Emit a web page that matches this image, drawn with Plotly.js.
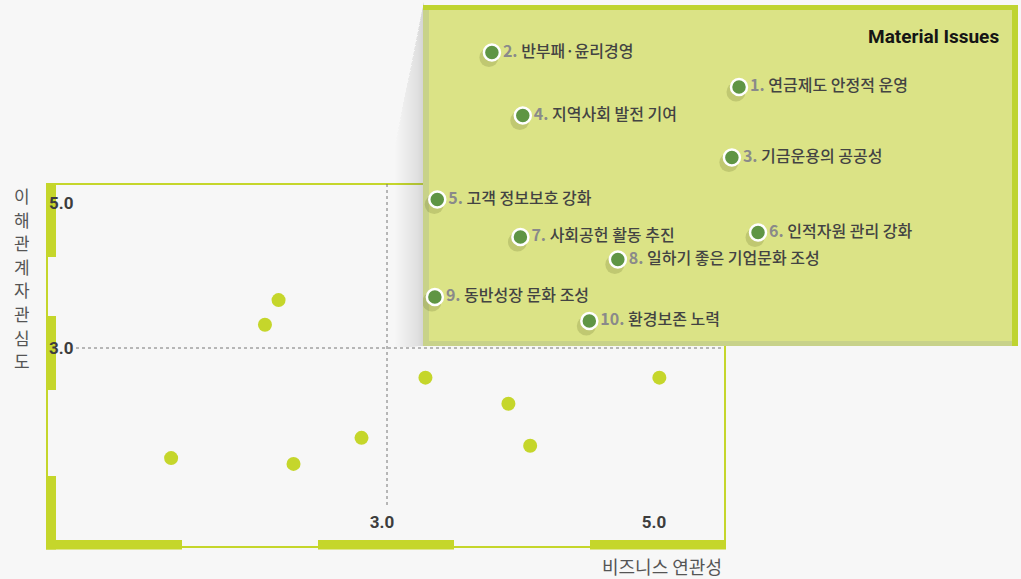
<!DOCTYPE html>
<html>
<head>
<meta charset="utf-8">
<script src="https://cdn.plot.ly/plotly-3.0.1.min.js"></script>
<style>html,body{margin:0;padding:0;background:#f7f7f7;}#chart{width:1021px;height:579px;}</style>
</head>
<body>
<div id="chart"></div>
<script>
// ---- data ----
const mainX = [1.42, 2.21, 2.11, 2.32, 2.82, 3.29, 3.90, 4.06, 5.01];
const mainY = [1.48, 3.66, 3.32, 1.40, 1.76, 2.59, 2.23, 1.65, 2.59];

const issueNo = ['1.', '2.', '3.', '4.', '5.', '6.', '7.', '8.', '9.', '10.'];
const issueName = ['연금제도 안정적 운영', '반부패·윤리경영', '기금운용의 공공성', '지역사회 발전 기여',
  '고객 정보보호 강화', '인적자원 관리 강화', '사회공헌 활동 추진', '일하기 좋은 기업문화 조성',
  '동반성장 문화 조성', '환경보존 노력'];
const issueX = [4.33, 3.29, 4.30, 3.42, 3.06, 4.41, 3.41, 3.82, 3.05, 3.70];
const issueY = [4.72, 4.95, 4.25, 4.53, 3.97, 3.75, 3.72, 3.57, 3.32, 3.16];

const xTickVals = [3, 5];
const xTickText = ['3.0', '5.0'];
const yTickVals = [5, 3];
const yTickText = ['5.0', '3.0'];

const xTitle = '비즈니스 연관성';
const yTitle = '이해관계자관심도';
const insetTitle = 'Material Issues';

// ---- styling / geometry ----
const W = 1021, H = 579;
const px = v => v / W;
const py = v => 1 - v / H;
const LIME = '#c5d62b';
const KR = '"Noto Sans CJK KR", "Noto Sans", sans-serif';

const shapes = [];
function rectPx(x0, y0, x1, y1, color, extra) {
  shapes.push(Object.assign({type: 'rect', xref: 'paper', yref: 'paper', x0: px(x0), x1: px(x1), y0: py(y1), y1: py(y0),
    fillcolor: color, line: {width: 0}, layer: 'below'}, extra || {}));
}
function linePx(x0, y0, x1, y1, color, width, dash) {
  shapes.push({type: 'line', xref: 'paper', yref: 'paper', x0: px(x0), x1: px(x1), y0: py(y0), y1: py(y1),
    line: {color: color, width: width, dash: dash || 'solid'}, layer: 'below'});
}

// frame
linePx(46, 184, 726, 184, LIME, 2);
linePx(725, 184, 725, 548, LIME, 2);
linePx(47, 184, 47, 548, LIME, 2);
linePx(46, 547, 726, 547, LIME, 2);
// thick axis segments
[[46, 182], [318, 454], [590, 726]].forEach(s => rectPx(s[0], 540, s[1], 549.5, LIME));
[[183, 257], [316, 390], [476, 549.5]].forEach(s => rectPx(46, s[0], 56, s[1], LIME));
// dotted guide lines
linePx(387, 184, 387, 508, '#777', 1, 'dot');
linePx(76, 348, 724, 348, '#777', 1, 'dot');

// shadow from quadrant to inset (stacked translucent layers -> smooth gradient)
const N = 36;
const yt = x => 184 + (x - 387) / 36 * (6 - 184);
const yb = x => 348 + (x - 387) / 36 * (346 - 348);
for (let k = 0; k < N; k++) {
  const xa = 387 + k * 36 / N, xb = 424;
  shapes.push({type: 'path', xref: 'paper', yref: 'paper', layer: 'below',
    path: `M ${px(xa)} ${py(yt(xa))} L ${px(xb)} ${py(yt(xb))} L ${px(xb)} ${py(yb(xb))} L ${px(xa)} ${py(yb(xa))} Z`,
    fillcolor: `rgba(150,156,150,${(0.0035 + 0.012 * k / N).toFixed(4)})`, line: {width: 0}});
}
// inset box
rectPx(423, 5, 1018, 346, '#dbe386');
rectPx(423, 10, 429, 346, '#c8d28a');
rectPx(423, 341, 1013, 346, '#c8d28a');
rectPx(423, 5, 1018, 10, '#bfd430');
rectPx(1012, 5, 1018, 346, '#bfd430');

// ---- traces ----
const labels = issueNo.map((n, i) =>
  `<b><span style="color:#8a8a8a">${n}</span></b> ${issueName[i]}`);

const dxs = 3 * 2.5 / 594, dys = 5 * 2.26 / 339;
const traces = [
  {x: mainX, y: mainY, type: 'scatter', mode: 'markers', xaxis: 'x', yaxis: 'y',
    marker: {size: 14, color: LIME}, hoverinfo: 'skip'},
  {x: issueX.map(v => v - dxs), y: issueY.map(v => v - dys), type: 'scatter', mode: 'markers',
    xaxis: 'x2', yaxis: 'y2', marker: {size: 19, color: 'rgba(95,105,40,0.22)', line: {width: 0}}, hoverinfo: 'skip'},
  {x: issueX, y: issueY, type: 'scatter', mode: 'markers+text', xaxis: 'x2', yaxis: 'y2',
    text: labels, textposition: 'middle right',
    textfont: {family: KR, size: 16, color: '#434343', weight: 500},
    marker: {size: 16, color: '#5f9544', line: {color: '#ffffff', width: 2.5}}, hoverinfo: 'skip'}
];

const yTitleAnns = yTitle.split('').map((ch, i) => ({
  xref: 'paper', yref: 'paper', x: px(22), y: py(195 + i * 23.6), xanchor: 'center', yanchor: 'middle',
  showarrow: false, text: ch, borderpad: 0, height: 20, font: {family: KR, size: 17, color: '#555555'}
}));

const layout = {
  width: W, height: H, autosize: false,
  margin: {l: 0, r: 0, t: 0, b: 0},
  paper_bgcolor: '#f7f7f7', plot_bgcolor: 'rgba(0,0,0,0)',
  showlegend: false,
  xaxis: {domain: [px(46), px(726)], range: [0.5, 5.5], showgrid: false, zeroline: false, showline: false,
    tickvals: xTickVals, ticktext: xTickText, ticks: '', ticklabelposition: 'inside',
    ticklabelstandoff: 14, ticklabelshift: -4,
    tickfont: {family: 'Roboto, sans-serif', size: 17, color: '#3d3d3d', weight: 700}},
  yaxis: {domain: [py(548), py(184)], range: [0.24, 5.262], showgrid: false, zeroline: false, showline: false,
    tickvals: yTickVals, ticktext: yTickText, ticks: '', ticklabelposition: 'inside',
    tickfont: {family: 'Roboto, sans-serif', size: 17, color: '#3d3d3d', weight: 700}},
  xaxis2: {domain: [px(423), px(1017)], range: [3, 5.5], visible: false, anchor: 'y2'},
  yaxis2: {domain: [py(345), py(6)], range: [3, 5.26], visible: false, anchor: 'x2'},
  shapes: shapes,
  annotations: [
    {xref: 'paper', yref: 'paper', x: px(1001), y: py(36), xanchor: 'right', yanchor: 'middle', showarrow: false,
      text: '<b>' + insetTitle + '</b>', font: {family: 'Roboto, sans-serif', size: 19, color: '#151515'}},
    {xref: 'paper', yref: 'paper', x: px(724), y: py(566), xanchor: 'right', yanchor: 'middle', showarrow: false,
      text: xTitle, font: {family: KR, size: 18, color: '#555555'}}
  ].concat(yTitleAnns)
};

Plotly.newPlot('chart', traces, layout, {staticPlot: true, displayModeBar: false});
</script>
</body>
</html>
